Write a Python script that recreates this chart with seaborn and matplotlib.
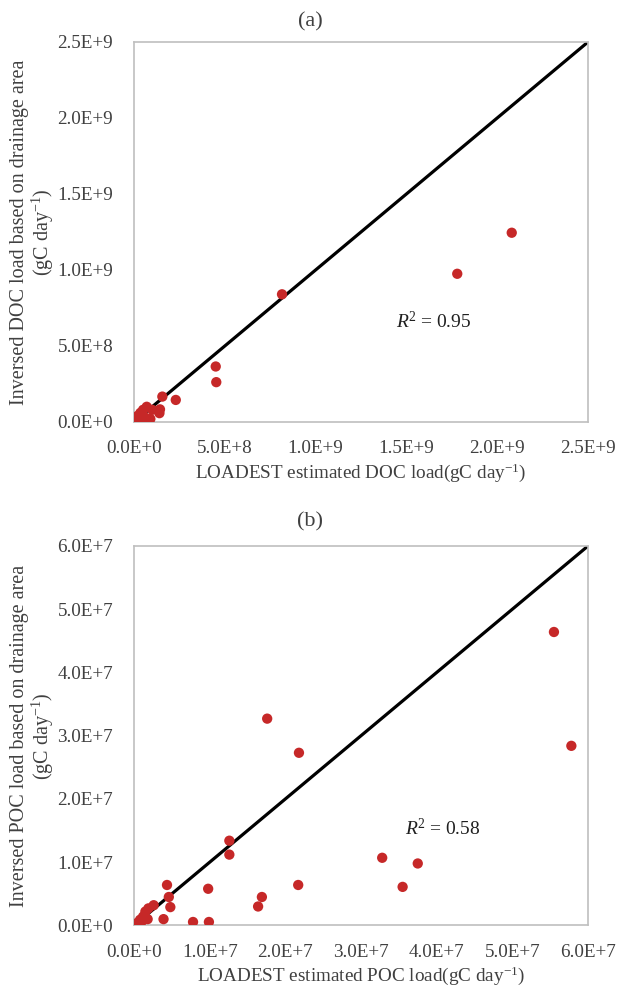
import numpy as np
import pandas as pd
import matplotlib
matplotlib.use("Agg")
import matplotlib.pyplot as plt
import seaborn as sns
from matplotlib.ticker import FuncFormatter, MultipleLocator

# DOC (a)
doc_loadest = [2.08e9, 1.78e9, 0.815e9, 0.45e9, 0.453e9, 0.23e9, 0.156e9, 0.143e9, 0.14e9,
               0.09e9, 0.07e9, 0.05e9, 0.035e9, 0.02e9, 0.01e9, 0.005e9, 0.06e9, 0.1e9, 0.04e9]
doc_inversed = [1.245e9, 0.975e9, 0.84e9, 0.365e9, 0.262e9, 0.145e9, 0.167e9, 0.083e9, 0.058e9,
                0.02e9, 0.1e9, 0.08e9, 0.06e9, 0.04e9, 0.02e9, 0.01e9, 0.03e9, 0.08e9, 0.005e9]

# POC (b)
poc_loadest = [5.78e7, 5.55e7, 3.28e7, 3.75e7, 3.55e7, 1.76e7, 2.18e7, 1.26e7, 1.26e7,
               0.436e7, 0.46e7, 0.48e7, 0.98e7, 0.39e7, 0.78e7, 0.99e7, 1.69e7, 1.64e7, 2.17e7,
               0.26e7, 0.19e7, 0.15e7, 0.18e7, 0.12e7, 0.08e7, 0.035e7, 0.01e7, 0.1e7]
poc_inversed = [2.84e7, 4.64e7, 1.07e7, 0.98e7, 0.61e7, 3.27e7, 2.73e7, 1.34e7, 1.12e7,
                0.64e7, 0.45e7, 0.29e7, 0.58e7, 0.10e7, 0.055e7, 0.055e7, 0.45e7, 0.30e7, 0.64e7,
                0.32e7, 0.27e7, 0.22e7, 0.10e7, 0.14e7, 0.09e7, 0.035e7, 0.01e7, 0.06e7]

sns.set_style("white")
plt.rcParams['font.family'] = ['Liberation Serif', 'DejaVu Serif']
plt.rcParams['mathtext.fontset'] = 'custom'
plt.rcParams['mathtext.rm'] = 'Liberation Serif'
plt.rcParams['mathtext.it'] = 'Liberation Serif:italic'

text_col = '#404040'
red = '#c62828'

def fmt_e(v, pos):
    s = f"{v:.1E}"
    mant, exp = s.split("E")
    return f"{mant}E{exp[0]}{int(exp[1:])}"

fig = plt.figure(figsize=(6.17, 9.88), dpi=100)
ax1 = fig.add_axes([0.2172, 0.5729, 0.7358, 0.3846])
ax2 = fig.add_axes([0.2172, 0.0633, 0.7358, 0.3841])

panels = [
    (ax1, doc_loadest, doc_inversed, 2.5e9, 0.5e9, "(a)", 0.978, "DOC", (1.44e9, 0.66e9), "0.95"),
    (ax2, poc_loadest, poc_inversed, 6.0e7, 1.0e7, "(b)", 0.472, "POC", (3.58e7, 1.54e7), "0.58"),
]

for ax, xs, ys, lim, step, title, ty, name, rpos, r2 in panels:
    df = pd.DataFrame({"x": xs, "y": ys})
    sns.lineplot(x=[0, lim], y=[0, lim], ax=ax, color='black', linewidth=2.3)
    sns.scatterplot(data=df, x="x", y="y", ax=ax, color=red, s=55, edgecolor='none', zorder=3)
    ax.set_xlim(0, lim)
    ax.set_ylim(0, lim)
    ax.xaxis.set_major_locator(MultipleLocator(step))
    ax.yaxis.set_major_locator(MultipleLocator(step))
    ax.xaxis.set_major_formatter(FuncFormatter(fmt_e))
    ax.yaxis.set_major_formatter(FuncFormatter(fmt_e))
    ax.tick_params(axis='both', length=0, labelsize=13.8, labelcolor=text_col)
    ax.tick_params(axis='x', pad=13)
    ax.tick_params(axis='y', pad=15)
    for sp in ax.spines.values():
        sp.set_color('#bfbfbf')
        sp.set_linewidth(1.2)
    fig.text(310 / 617, ty, title, fontsize=16, color=text_col, ha='center', va='center')
    ax.set_xlabel(f"LOADEST estimated {name} load(gC day$^{{-1}}$)", fontsize=13.8, color=text_col, labelpad=3)
    ax.set_ylabel(f"Inversed {name} load based on drainage area\n(gC day$^{{-1}}$)", fontsize=14.5,
                  color=text_col, labelpad=1, linespacing=1.05)
    ax.text(rpos[0], rpos[1], f"$R$$^2$ = {r2}", fontsize=14, color='#202020', va='center')

fig.savefig("out.png", dpi=100)
